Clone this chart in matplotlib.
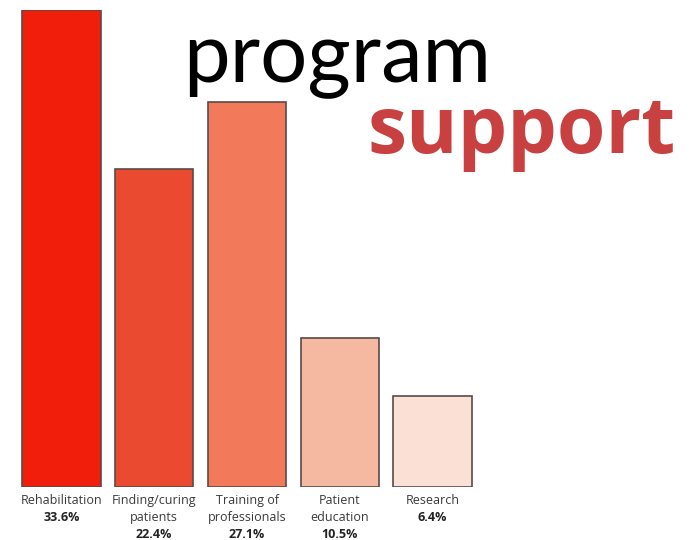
import matplotlib
matplotlib.use("Agg")
import matplotlib.pyplot as plt
from matplotlib.transforms import blended_transform_factory

categories = ["Rehabilitation", "Finding/curing\npatients", "Training of\nprofessionals", "Patient\neducation", "Research"]
values = [33.6, 22.4, 27.1, 10.5, 6.4]
pct_labels = ["33.6%", "22.4%", "27.1%", "10.5%", "6.4%"]
colors = ["#f11e0c", "#ea4a30", "#f27a5a", "#f5b9a2", "#fbe0d6"]

W, H = 692, 540
fig = plt.figure(figsize=(W / 100, H / 100), dpi=100)
fig.patch.set_facecolor("white")

# axes in pixel coords: left 15, right 479, bottom 53 (from bottom), top 530
ax = fig.add_axes([15 / W, 53 / H, 464 / W, 477 / H])
x = list(range(len(values)))
ax.bar(x, values, width=0.845, color=colors, edgecolor="#5a4a48", linewidth=1.2)
ax.set_xlim(-0.5, 4.5)
ax.set_ylim(0, 33.6)
ax.axis("off")

trans = blended_transform_factory(ax.transData, fig.transFigure)
lab_font = "Open Sans"
row_base = [504, 521, 538]  # baselines in pixels from top
for i, (cat, pct) in enumerate(zip(categories, pct_labels)):
    lines = cat.split("\n")
    for j, line in enumerate(lines):
        ax.text(i, 1 - row_base[j] / H, line, transform=trans,
                ha="center", va="baseline", fontsize=9, family=lab_font, color="#3a3a3a")
    ax.text(i, 1 - row_base[len(lines)] / H, pct, transform=trans,
            ha="center", va="baseline", fontsize=9, family=lab_font, fontweight="bold", color="#222222")

fig.text(183 / W, 1 - 82 / H, "program", fontsize=60, family="Lato", fontweight="normal",
         color="black", ha="left", va="baseline")
fig.text(368 / W, 1 - 153 / H, "support", fontsize=56.5, family="Open Sans", fontweight="bold",
         color="#c84040", ha="left", va="baseline")

fig.savefig("out.png", dpi=100, facecolor="white")
